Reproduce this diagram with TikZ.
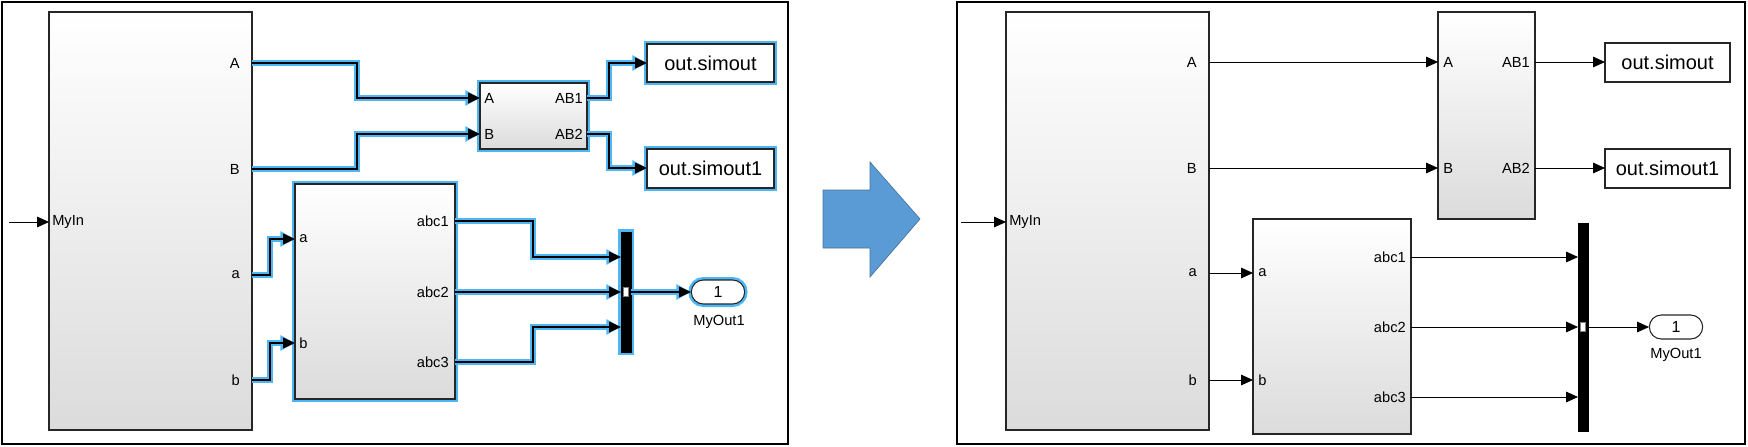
\documentclass[tikz,border=0pt]{standalone}
\usepackage{fontspec}
\setmainfont{Liberation Sans}
\usetikzlibrary{arrows.meta,fit,shapes.misc}
\definecolor{hl}{RGB}{77,182,245}
\definecolor{bigarrow}{RGB}{91,155,213}
\begin{document}
\begin{tikzpicture}[x=0.75pt,y=-0.75pt,
  frame/.style={draw=black,line width=1.2pt,inner sep=0pt},
  blk/.style={draw=black!85,line width=0.8pt,top color=white,bottom color=black!14,inner sep=0pt},
  hlb/.style={preaction={draw=hl,line width=4.5pt}},
  outbox/.style={draw=black!85,line width=0.8pt,fill=white,inner sep=0pt,font=\fontsize{15}{18}\selectfont},
  muxb/.style={fill=black,draw=black,inner sep=0pt},
  oval/.style={rounded rectangle,draw=black!85,line width=0.8pt,fill=white,minimum width=40pt,minimum height=18pt,inner sep=0pt,font=\fontsize{12}{14}\selectfont},
  port/.style={font=\fontsize{11}{13}\selectfont,inner sep=0pt},
  tip/.style={-{Triangle[length=9pt,width=8pt]}},
  wire/.style={tip,draw=black,line width=0.6pt},
  hwire/.style={tip,draw=black,line width=1.4pt,preaction={draw=hl,line width=5pt,-{Triangle[length=11pt,width=11pt]}}}
]
\useasboundingbox (0,0) rectangle (1748,446);
% ---------------- left panel ----------------
\node[frame,fit={(2,2)(788,444)}] (F1) {};
\node[blk,fit={(49,12)(252,430)}] (L1) {};
\node[blk,hlb,fit={(480,83)(587,149)}] (L2) {};
\node[blk,hlb,fit={(295,184)(455,399)}] (L3) {};
\node[outbox,hlb,fit={(647,44)(774,82)},label={[outbox,draw=none,fill=none]center:out.simout}] (L4) {};
\node[outbox,hlb,fit={(647,149)(774,188)},label={[outbox,draw=none,fill=none]center:out.simout1}] (L5) {};
\node[muxb,hlb,fit={(621,232)(631,352)}] (L6) {};
\node[fill=white,draw=black!50,line width=0.3pt,minimum width=4pt,minimum height=7pt,inner sep=0pt] (L6m) at (626,292) {};
\node[oval,hlb] (L7) at (718,292) {1};
\node[port] (L7l) at (719,322) {MyOut1};
% ports
\coordinate (Lin) at (9,222);
\coordinate (LiA) at (49,222);
\coordinate (LA) at (252,63);  \coordinate (LB) at (252,169);
\coordinate (La) at (252,275); \coordinate (Lb) at (252,380);
\coordinate (L2A) at (480,98); \coordinate (L2B) at (480,134);
\coordinate (L2o1) at (587,98); \coordinate (L2o2) at (587,134);
\coordinate (L3a) at (295,239); \coordinate (L3b) at (295,343);
\coordinate (L3o1) at (455,221); \coordinate (L3o2) at (455,292); \coordinate (L3o3) at (455,362);
\coordinate (L4i) at (647,63); \coordinate (L5i) at (647,168);
\coordinate (L6i1) at (621,257); \coordinate (L6i2) at (621,292); \coordinate (L6i3) at (621,327);
\coordinate (L6o) at (631,292); \coordinate (L7i) at (691,292);
% labels
\node[port,anchor=west] at (52,222) {MyIn};
\node[port,anchor=east] at (240,63) {A};
\node[port,anchor=east] at (240,169) {B};
\node[port,anchor=east] at (240,275) {a};
\node[port,anchor=east] at (240,380) {b};
\node[port,anchor=west] at (484,98) {A};
\node[port,anchor=west] at (484,134) {B};
\node[port,anchor=east] at (583,98) {AB1};
\node[port,anchor=east] at (583,134) {AB2};
\node[port,anchor=west] at (299,239) {a};
\node[port,anchor=west] at (299,343) {b};
\node[port,anchor=east] at (449,221) {abc1};
\node[port,anchor=east] at (449,292) {abc2};
\node[port,anchor=east] at (449,362) {abc3};
% wires
\draw[wire] (Lin) -- (LiA);
\draw[hwire] (LA) -- (357,63) |- (L2A);
\draw[hwire] (LB) -- (357,169) |- (L2B);
\draw[hwire] (La) -- (270,275) |- (L3a);
\draw[hwire] (Lb) -- (270,380) |- (L3b);
\draw[hwire] (L2o1) -- (609,98) |- (L4i);
\draw[hwire] (L2o2) -- (609,134) |- (L5i);
\draw[hwire] (L3o1) -- (533,221) |- (L6i1);
\draw[hwire] (L3o2) -- (L6i2);
\draw[hwire] (L3o3) -- (533,362) |- (L6i3);
\draw[hwire] (L6o) -- (L7i);
% ---------------- big arrow ----------------
\draw[fill=bigarrow,draw=bigarrow!75!black,line width=0.5pt] (823,190) -- (870,190) -- (870,162) -- (920,219) -- (870,277) -- (870,248) -- (823,248) -- cycle;
% ---------------- right panel ----------------
\node[frame,fit={(957,2)(1745,444)}] (F2) {};
\node[blk,fit={(1006,12)(1209,430)}] (R1) {};
\node[blk,fit={(1438,12)(1535,219)}] (R2) {};
\node[blk,fit={(1253,219)(1411,434)}] (R3) {};
\node[outbox,fit={(1605,43)(1730,82)},label={[outbox,draw=none,fill=none]center:out.simout}] (R4) {};
\node[outbox,fit={(1605,149)(1730,188)},label={[outbox,draw=none,fill=none]center:out.simout1}] (R5) {};
\node[muxb,fit={(1578,223)(1588,431)}] (R6) {};
\node[fill=white,draw=black!50,line width=0.3pt,minimum width=4pt,minimum height=7pt,inner sep=0pt] (R6m) at (1583,327) {};
\node[oval] (R7) at (1676,327) {1};
\node[port] (R7l) at (1676,355) {MyOut1};
\coordinate (Rin) at (961,222);
\coordinate (RiA) at (1006,222);
\coordinate (RA) at (1209,62);  \coordinate (RB) at (1209,168);
\coordinate (Ra) at (1209,273); \coordinate (Rb) at (1209,380);
\coordinate (R2A) at (1438,62); \coordinate (R2B) at (1438,168);
\coordinate (R2o1) at (1535,62); \coordinate (R2o2) at (1535,168);
\coordinate (R3a) at (1253,273); \coordinate (R3b) at (1253,380);
\coordinate (R3o1) at (1411,257); \coordinate (R3o2) at (1411,327); \coordinate (R3o3) at (1411,397);
\coordinate (R4i) at (1605,62); \coordinate (R5i) at (1605,168);
\coordinate (R6i1) at (1578,257); \coordinate (R6i2) at (1578,327); \coordinate (R6i3) at (1578,397);
\coordinate (R6o) at (1588,327); \coordinate (R7i) at (1649,327);
\node[port,anchor=west] at (1009,222) {MyIn};
\node[port,anchor=east] at (1197,62) {A};
\node[port,anchor=east] at (1197,168) {B};
\node[port,anchor=east] at (1197,273) {a};
\node[port,anchor=east] at (1197,380) {b};
\node[port,anchor=west] at (1443,62) {A};
\node[port,anchor=west] at (1443,168) {B};
\node[port,anchor=east] at (1530,62) {AB1};
\node[port,anchor=east] at (1530,168) {AB2};
\node[port,anchor=west] at (1258,273) {a};
\node[port,anchor=west] at (1258,380) {b};
\node[port,anchor=east] at (1406,257) {abc1};
\node[port,anchor=east] at (1406,327) {abc2};
\node[port,anchor=east] at (1406,397) {abc3};
\draw[wire] (Rin) -- (RiA);
\draw[wire] (RA) -- (R2A);
\draw[wire] (RB) -- (R2B);
\draw[wire] (Ra) -- (R3a);
\draw[wire] (Rb) -- (R3b);
\draw[wire] (R2o1) -- (R4i);
\draw[wire] (R2o2) -- (R5i);
\draw[wire] (R3o1) -- (R6i1);
\draw[wire] (R3o2) -- (R6i2);
\draw[wire] (R3o3) -- (R6i3);
\draw[wire] (R6o) -- (R7i);
\end{tikzpicture}
\end{document}
